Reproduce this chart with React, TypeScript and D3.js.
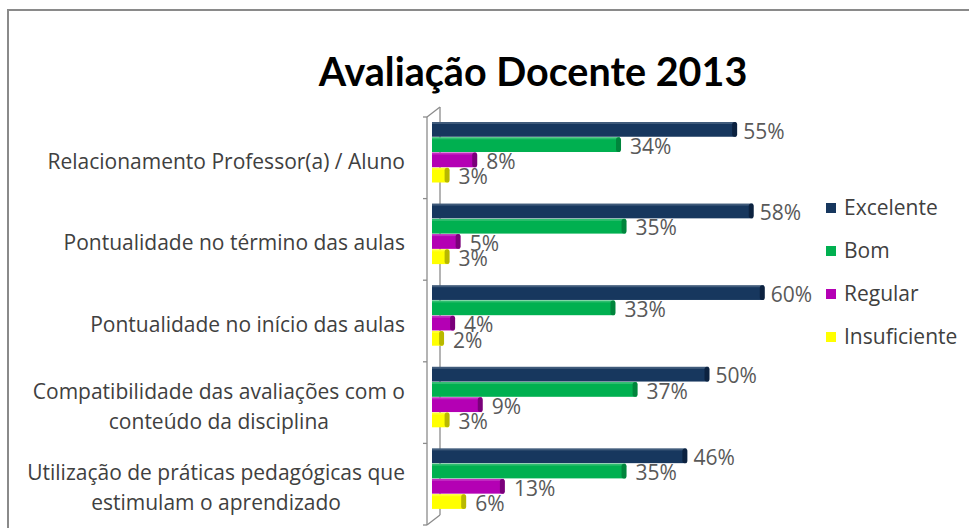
import * as d3 from 'd3';
import { useEffect, useRef } from 'react';

const categories = [
    ['Relacionamento Professor(a) / Aluno'],
    ['Pontualidade no término das aulas'],
    ['Pontualidade no início das aulas'],
    ['Compatibilidade das avaliações com o', 'conteúdo da disciplina'],
    ['Utilização de práticas pedagógicas que', 'estimulam o aprendizado'],
];
const series = ['Excelente', 'Bom', 'Regular', 'Insuficiente'];
const excelente = [55, 58, 60, 50, 46];
const bom = [34, 35, 33, 37, 35];
const regular = [8, 5, 4, 9, 13];
const insuficiente = [3, 3, 2, 3, 6];
const values = [excelente, bom, regular, insuficiente];

const colors = ['#17375e', '#00b050', '#b400b4', '#ffff00'];
const capColors = ['#0c2240', '#00853c', '#7a007a', '#b8b800'];
const titleFont = 'Lato, "Open Sans", sans-serif';
const font = '"Open Sans", Lato, sans-serif';

export default function App() {
    const ref = useRef<SVGSVGElement | null>(null);

    useEffect(() => {
        const svg = d3.select(ref.current);
        svg.selectAll('*').remove();

        const width = 969;
        const height = 528;
        const x0 = 432;

        const x = d3.scaleLinear().domain([0, 70]).range([x0, x0 + 70 * 5.53]);
        const y = d3.scaleBand<number>()
            .domain(d3.range(categories.length))
            .range([117, 525]);
        const inner = d3.scaleBand<number>()
            .domain(d3.range(series.length))
            .range([5, 66]);

        svg.attr('width', width).attr('height', height);

        // frame
        svg.append('rect')
            .attr('x', 8).attr('y', 10)
            .attr('width', 1000).attr('height', 600)
            .attr('fill', '#fff')
            .attr('stroke', '#8a8a8a')
            .attr('stroke-width', 2);

        svg.append('text')
            .attr('x', 533).attr('y', 86)
            .attr('text-anchor', 'middle')
            .attr('font-family', titleFont)
            .attr('font-weight', 'bold')
            .attr('font-size', 39.5)
            .attr('fill', '#000')
            .text('Avaliação Docente 2013');

        // 3d wall
        const wall = svg.append('g').attr('stroke', '#8c8c8c').attr('fill', 'none').attr('stroke-width', 1.3);
        const top = y.range()[0];
        const bottom = y.range()[1];
        wall.append('path').attr('d', `M440,${top - 10}V${bottom - 10}`);
        wall.append('path').attr('d', `M427,${top}L440,${top - 10}M427,${bottom}L440,${bottom - 10}`);
        wall.append('path').attr('d', `M427,${top}V${bottom}`);
        d3.range(categories.length + 1).forEach(i => {
            const ty = i < categories.length ? y(i)! : bottom;
            wall.append('path').attr('d', `M423,${ty}H427`);
        });

        // bars
        const groups = svg.append('g');
        values.forEach((vals, s) => {
            vals.forEach((v, c) => {
                const by = y(c)! + inner(s)!;
                const bh = inner.bandwidth();
                const bw = x(v) - x0;
                groups.append('rect')
                    .attr('x', x0).attr('y', by)
                    .attr('width', bw).attr('height', bh - 0.5)
                    .attr('fill', colors[s]);
                groups.append('rect')
                    .attr('x', x0).attr('y', by)
                    .attr('width', bw).attr('height', 2)
                    .attr('fill', '#fff')
                    .attr('opacity', 0.18);
                groups.append('rect')
                    .attr('x', x0 + bw - 4).attr('y', by)
                    .attr('width', 5).attr('height', bh - 0.5)
                    .attr('rx', 2.5)
                    .attr('fill', capColors[s]);
                groups.append('text')
                    .attr('x', x(v) + (s === 0 ? 7 : 10))
                    .attr('y', by + bh / 2 + 9)
                    .attr('font-family', font)
                    .attr('font-size', 21)
                    .attr('fill', '#595959')
                    .text(`${v}%`);
            });
        });

        // category labels
        categories.forEach((lines, c) => {
            const cy = y(c)! + y.bandwidth() / 2;
            const g = svg.append('g')
                .attr('font-family', font)
                .attr('font-size', 21)
                .attr('fill', '#404040');
            const texts = lines.map((line, i) =>
                g.append('text')
                    .attr('y', cy + 4 + (i - (lines.length - 1) / 2) * 30 + 7)
                    .attr('text-anchor', 'middle')
                    .text(line)
            );
            const maxW = d3.max(texts, t => (t.node() as SVGTextElement).getComputedTextLength()) || 0;
            texts.forEach(t => t.attr('x', 405 - maxW / 2));
        });

        // legend
        const legend = svg.append('g').attr('transform', 'translate(826,208)');
        series.forEach((name, i) => {
            legend.append('rect')
                .attr('x', 0).attr('y', i * 43 - 5)
                .attr('width', 10).attr('height', 10)
                .attr('fill', colors[i]);
            legend.append('text')
                .attr('x', 18).attr('y', i * 43 + 7)
                .attr('font-family', font)
                .attr('font-size', 21)
                .attr('fill', '#404040')
                .text(name);
        });
    }, []);

    return <svg ref={ref} style={{ position: 'absolute', left: 0, top: 0 }}></svg>;
}
